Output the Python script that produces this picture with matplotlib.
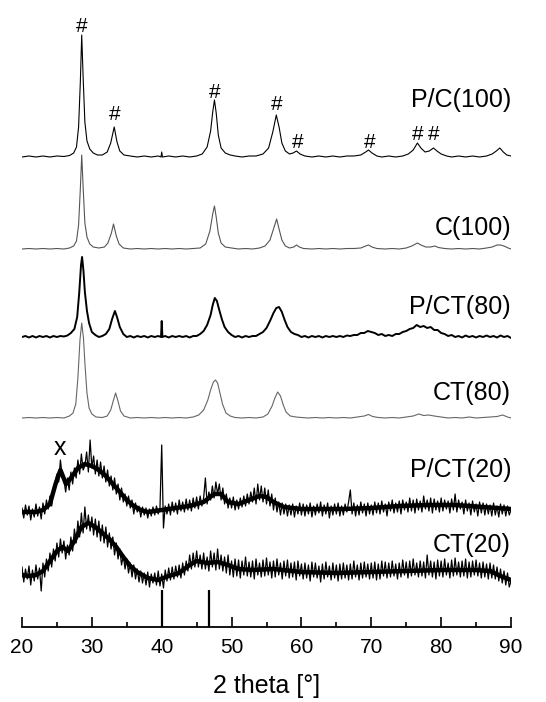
import numpy as np
import matplotlib
matplotlib.use('Agg')
import matplotlib.pyplot as plt
from matplotlib.ticker import MultipleLocator

plt.rcParams['font.family'] = ['Liberation Sans', 'DejaVu Sans']

# ---- data (intensity above each trace's own baseline, arbitrary units) ----
pc100_x = [20, 21, 22, 23, 24, 25, 26, 26.8, 27.4, 27.8, 28.1, 28.35, 28.55, 28.75, 29.0, 29.3, 29.7,
           30.2, 30.8, 31.5, 32.2, 32.7, 33.2, 33.6, 34.0, 34.6, 35.5, 36.5, 37.5, 38.5, 39.5, 39.9,
           40.0, 40.1, 41, 42, 43, 44, 45, 45.8, 46.5, 47.0, 47.3, 47.55, 47.8, 48.1, 48.5, 49.1,
           49.8, 50.5, 51.5, 52.5, 53.5, 54.5, 55.3, 55.9, 56.4, 56.8, 57.2, 57.7, 58.3, 58.8, 59.3,
           59.8, 60.5, 61.5, 62.5, 63.5, 64.5, 65.5, 66.5, 67.5, 68.5, 69.2, 69.6, 70.1, 70.8, 71.5,
           72.5, 73.5, 74.5, 75.3, 76.0, 76.6, 77.1, 77.7, 78.3, 78.9, 79.4, 80.0, 80.8, 81.5, 82.5,
           83.5, 84.5, 85.5, 86.5, 87.3, 87.9, 88.4, 88.9, 89.4, 90]
pc100_y = [0, 1, 0, 1, 0, 1, 0.5, 1.5, 4, 10, 30, 75, 122, 80, 35, 16, 8,
           4, 2, 2, 5, 14, 30, 15, 6, 2, 1, 0, 1, 0, 1, 0,
           5, 0, 1, 0, 1, 0, 1, 3, 10, 26, 45, 57, 44, 22, 9, 4,
           2, 1, 0, 1, 1, 3, 9, 25, 42, 30, 14, 6, 3, 4, 6,
           3, 1, 0, 1, 0, 1, 0, 1, 1, 2, 5, 7, 4, 1, 0,
           1, 0, 1, 3, 7, 14, 9, 5, 6, 9, 6, 3, 1, 0, 1,
           0, 1, 0, 1, 3, 6, 9, 5, 2, 1]

c100_x = [20, 21, 22, 23, 24, 25, 26, 26.8, 27.4, 27.8, 28.1, 28.35, 28.55, 28.75, 29.0, 29.3, 29.7,
          30.2, 31, 31.8, 32.3, 32.8, 33.1, 33.5, 33.9, 34.5, 35.5, 36.5, 37.5, 38.5, 39.5, 40.5,
          41.5, 42.5, 43.5, 44.5, 45.5, 46.3, 46.9, 47.3, 47.55, 47.8, 48.1, 48.5, 49.1, 50, 51,
          52, 53, 54, 54.8, 55.5, 56.0, 56.45, 56.8, 57.2, 57.7, 58.3, 58.9, 59.3, 59.7, 60.3,
          61.5, 62.5, 63.5, 64.5, 65.5, 66.5, 67.5, 68.5, 69.2, 69.6, 70.1, 70.8, 72, 73, 74, 75,
          75.8, 76.6, 77.1, 77.8, 78.5, 79.1, 79.6, 80.5, 81.5, 82.5, 83.5, 84.5, 85.5, 86.5,
          87.3, 88.0, 88.5, 89.0, 89.6, 90]
c100_y = [0, 0.5, 0, 0.5, 0, 0.5, 0, 1, 3, 8, 24, 60, 94, 62, 26, 12, 5,
          2, 1, 2, 6, 16, 25, 13, 5, 1, 0, 0.5, 0, 0.5, 0, 0.5,
          0, 0.5, 0, 0.5, 1, 5, 18, 35, 43, 32, 16, 6, 2, 1, 0,
          0.5, 0, 1, 3, 9, 20, 30, 20, 9, 3, 1, 2, 4, 2, 0.5,
          0, 0.5, 0, 0.5, 0, 0.5, 0.5, 1, 3, 4, 2, 0.5, 0, 0.5, 0, 1,
          3, 6, 4, 2, 2, 3, 1.5, 0.5, 0, 0.5, 0, 0.5, 0, 1,
          2, 4, 4, 3, 1, 0]

pct80_x = [20, 20.5, 21, 21.5, 22, 22.5, 23, 23.5, 24, 24.5, 25, 25.5, 26, 26.5, 27, 27.5, 27.9,
           28.2, 28.45, 28.6, 28.8, 29.0, 29.3, 29.6, 30.0, 30.5, 31.0, 31.5, 32.0, 32.5, 32.9,
           33.3, 33.6, 34.0, 34.5, 35.0, 35.5, 36, 36.5, 37, 37.5, 38, 38.5, 39, 39.5, 39.9, 40.0,
           40.1, 40.5, 41, 41.5, 42, 42.5, 43, 43.5, 44, 44.5, 45, 45.5, 46, 46.5, 46.8, 47.0,
           47.3, 47.6, 47.9, 48.2, 48.6, 49.0, 49.5, 50, 50.5, 51, 51.5, 52, 52.5, 53, 53.5, 54,
           54.5, 55, 55.5, 56.0, 56.4, 56.8, 57.2, 57.6, 58.0, 58.5, 59, 59.5, 60, 60.5, 61, 61.5,
           62, 62.5, 63, 63.5, 64, 64.5, 65, 65.5, 66, 66.5, 67, 67.5, 68, 68.5, 69, 69.5, 70,
           70.5, 71, 71.5, 72, 72.5, 73, 73.5, 74, 74.5, 75, 75.5, 76, 76.5, 77, 77.5, 78, 78.5,
           79, 79.5, 80, 80.5, 81, 81.5, 82, 82.5, 83, 83.5, 84, 84.5, 85, 85.5, 86, 86.5, 87,
           87.5, 88, 88.5, 89, 89.5, 90]
pct80_y = [0, 1, -0.5, 1, -0.5, 1, 0, 1, -0.5, 1, 0, 1, 0.5, 1.5, 4, 8, 20,
           45, 72, 80, 66, 45, 26, 14, 5, 2, 0, 1, 3, 8, 18,
           26, 20, 10, 3, 0, 1, -0.5, 1, 0, 1, -0.5, 1, 0, 1, 0, 16,
           0, 1, -0.5, 1, 0, 1, 0, 1, -0.5, 1, 1, 3, 6, 12, 18, 22,
           32, 39, 36, 28, 18, 10, 5, 2, 0, 1, -0.5, 1, 0, 1, 1, 3,
           5, 9, 16, 24, 29, 30, 25, 17, 10, 5, 3, 2, 0, 1, -0.5, 1,
           0, 1, -0.5, 1, 0, 1, 0, 1, 0, 1.5, 1, 2, 2, 4, 4, 6, 5,
           4, 2, 3, 1, 2, 1, 3, 3, 5, 6, 8, 9, 12, 10, 11, 9, 10,
           7, 7, 4, 3, 1, 2, 0, 1, -0.5, 1.5, 0, 1, -0.5, 1, 0, 1.5, 0,
           1, -0.5, 1.5, 0, 1, -1]

ct80_x = [20, 21, 22, 23, 24, 25, 26, 26.8, 27.3, 27.7, 28.0, 28.3, 28.55, 28.8, 29.0, 29.3, 29.6,
          30.0, 30.6, 31.5, 32.2, 32.7, 33.1, 33.4, 33.7, 34.1, 34.6, 35.5, 36.5, 37.5, 38.5, 39.5,
          40.5, 41.5, 42.5, 43.5, 44.5, 45.3, 46.0, 46.6, 47.0, 47.4, 47.7, 48.0, 48.3, 48.7, 49.2,
          49.8, 50.5, 51.5, 52.5, 53.5, 54.5, 55.2, 55.8, 56.2, 56.6, 57.0, 57.4, 57.8, 58.4, 59.2,
          60, 61, 62, 63, 64, 65, 66, 67, 68, 69, 69.6, 70.2, 71, 72, 73, 74, 75, 76, 76.8, 77.5,
          78.2, 79, 80, 81, 82, 83, 84, 85, 86, 87, 88, 88.8, 89.5, 90]
ct80_y = [0, 0.5, 0, 0.5, 0, 0.5, 0, 2, 5, 14, 40, 78, 95, 80, 55, 25, 10,
          4, 1, 0.5, 2, 8, 18, 25, 18, 7, 2, 0, 0.5, 0, 0.5, 0,
          0.5, 0, 0.5, 0, 1, 3, 8, 18, 28, 36, 38, 35, 26, 14, 5,
          2, 0.5, 0, 0.5, 0, 1, 4, 12, 20, 26, 22, 13, 6, 2, 1,
          0.5, 0, 0.5, 0, 0.5, 0, 0.5, 0, 1, 2, 3.5, 1.5, 0.5, 0, 0.5, 0, 1, 2, 4, 2.5,
          3, 2, 1, 0, 0.5, 0, 1, 0, 0.5, 1, 1.5, 3, 1, 0]

# noisy patterns: raw points every 0.25 deg from 20 to 90 (one group = one degree)
noisy_x = np.arange(20, 90.001, 0.25)
pct20_y = [4, -6, 7, -3,   6, -8, 3, -5,   8, -4, 5, -7,   9, -2, 12, 3,
           16, 6, 22, 30,  38, 30, 52, 36,  32, 20, 34, 22,  40, 28, 44, 34,
           52, 38, 58, 42,  46, 60, 40, 72,  44, 56, 38, 52,  36, 50, 34, 46,
           30, 42, 26, 36,  22, 34, 18, 28,  12, 24, 10, 18,  6, 16, 4, 12,
           -2, 9, 0, 6,  -5, 5, -3, 4,  -6, 3, -4, 5,  -3, 6, -2, 4,
           67, -16, 6, -2,  8, -3, 10, 0,  9, -2, 12, 1,  10, 0, 13, 2,
           12, 1, 14, 4,  15, 3, 16, 6,  14, 34, 8, 20,  12, 26, 14, 30,
           18, 28, 12, 24,  8, 18, 4, 14,  4, 15, 2, 12,  3, 14, 5, 16,
           6, 18, 8, 20,  10, 24, 8, 28,  12, 26, 10, 24,  8, 22, 6, 18,
           2, 14, 0, 10,  -3, 9, -2, 8,  -4, 7, -3, 8,  -5, 6, -2, 9,
           -3, 8, -4, 7,  -2, 9, -5, 6,  -3, 8, -1, 10,  -4, 7, -2, 9,
           -6, 6, -3, 8,  -2, 9, -4, 6,  -3, 8, 0, 10,  22, -2, 9, -4,
           7, -3, 10, -1,  8, -4, 9, -2,  7, -3, 10, -1,  9, -2, 11, 0,
           8, -4, 10, 1,  12, -1, 9, 0,  11, -2, 12, 2,  10, 0, 14, 1,
           12, -1, 13, 2,  11, 0, 16, 3,  12, 1, 14, -1,  13, 2, 11, 0,
           14, 1, 12, 3,  11, -1, 13, 2,  18, 0, 12, 3,  10, -2, 12, 1,
           9, -3, 11, 0,  8, -4, 10, -1,  9, -3, 8, -2,  7, -4, 9, -3,
           6, -5, 8, -2,  7, -4, 6, -3,
           2]
ct20_y = [6, -9, 4, -6,  7, -12, 3, -8,  8, -6, 5, -18,  10, -4, 14, 2,
          20, 6, 24, 12,  30, 16, 34, 20,  32, 14, 28, 18,  36, 22, 44, 30,
          52, 36, 60, 40,  66, 44, 58, 42,  56, 38, 54, 36,  52, 32, 48, 30,
          46, 26, 40, 24,  36, 18, 30, 14,  24, 8, 18, 4,  14, 0, 10, -4,
          8, -6, 4, -9,  2, -10, 0, -12,  1, -14, -1, -10,  0, -12, 2, -13,
          -1, -15, 3, -8,  5, -7, 6, -6,  7, -4, 8, -5,  10, -2, 12, 2,
          18, 4, 20, 6,  22, 6, 18, 4,  20, 4, 16, 2,  22, 6, 20, 3,
          24, 4, 18, 2,  16, 0, 18, -2,  12, -4, 14, -3,  13, -5, 12, -2,
          16, -3, 11, -4,  12, -6, 14, -2,  10, -4, 13, -3,  15, -2, 11, -5,
          12, -4, 14, -2,  10, -6, 12, -3,  13, -5, 10, -4,  11, -7, 12, -3,
          9, -6, 10, -5,  8, -8, 11, -4,  10, -5, 7, -9,  9, -6, 11, -4,
          7, -7, 10, -5,  8, -8, 9, -6,  10, -5, 8, -7,  9, -6, 12, -4,
          8, -7, 10, -5,  11, -4, 9, -6,  10, -5, 11, -7,  9, -6, 12, -3,
          11, -5, 10, -4,  12, -3, 9, -6,  10, -4, 13, -2,  11, -5, 12, -3,
          14, -2, 10, -4,  12, -3, 11, -5,  18, -2, 12, -4,  11, -6, 13, -3,
          12, -4, 14, -2,  10, -5, 13, -3,  15, -2, 11, -4,  12, -3, 14, -5,
          11, -4, 12, -2,  13, -3, 10, -5,  11, -4, 9, -6,  10, -5, 8, -6,
          6, -8, 4, -10,  2, -12, 0, -14,
          -8]

# centre of the dense noise band
pct20_mx = [20, 22, 23, 24, 24.8, 25.5, 26.3, 27, 28, 29, 30, 31, 32, 33, 34, 35, 36, 37, 38,
            40, 42, 44, 46, 47.5, 48.5, 49.5, 51, 52.5, 54, 55, 56, 57.5, 60, 63, 66, 70, 74,
            78, 82, 86, 90]
pct20_my = [0, 0, 2, 8, 28, 42, 28, 34, 44, 48, 46, 42, 36, 28, 20, 12, 6, 2, 0,
            2, 4, 6, 10, 18, 18, 10, 8, 12, 16, 15, 10, 5, 3, 3, 3, 4, 6,
            7, 7, 5, 3]
ct20_mx = [20, 21, 22, 23, 24, 25, 25.8, 26.6, 27.5, 28.5, 29.5, 30.5, 31.5, 32.5, 33.5, 34.5,
           35.5, 36.5, 38, 39.5, 41, 42.5, 44, 45, 46.5, 48, 49.5, 51, 53, 56, 60, 65, 70, 75,
           80, 85, 87, 88.5, 90]
ct20_my = [-2, -3, -2, 2, 12, 22, 26, 22, 32, 46, 50, 46, 40, 34, 26, 16,
           7, 1, -5, -7, -3, 0, 8, 12, 10, 11, 8, 4, 3, 4, 1, 0, 1, 2,
           3, 3, 2, -3, -7]

# reference stick pattern
ref_x = [40.0, 46.7]
ref_h = [37, 37]

labels = ['P/C(100)', 'C(100)', 'P/CT(80)', 'CT(80)', 'P/CT(20)', 'CT(20)']
hash_x = [28.6, 33.3, 47.6, 56.5, 59.5, 69.7, 76.7, 79.0]

# ---- layout / style ----
offsets = [470, 378, 290, 209, 115, 54]
label_y = [527, 399, 320, 234, 157, 82]
hash_y = [600, 512, 534, 522, 485, 485, 492, 492]
colors = ['black', '#555555', 'black', '#666666', 'black', 'black']
widths = [0.8, 0.8, 1.4, 0.8, 0.9, 0.9]

traces = [(pc100_x, pc100_y), (c100_x, c100_y), (pct80_x, pct80_y),
          (ct80_x, ct80_y), (noisy_x, pct20_y), (noisy_x, ct20_y)]

fig = plt.figure(figsize=(5.46, 7.02), dpi=100)
ax = fig.add_axes([22 / 546, 75 / 702, 489 / 546, 627 / 702])

# dense core of the noisy patterns
ax.plot(pct20_mx, np.asarray(pct20_my) + offsets[4], color='black', lw=3.2,
        solid_joinstyle='round')
ax.plot(ct20_mx, np.asarray(ct20_my) + offsets[5], color='black', lw=3.2,
        solid_joinstyle='round')

for (x, y), off, c, lw, lab, ly in zip(traces, offsets, colors, widths, labels, label_y):
    ax.plot(x, np.asarray(y) + off, color=c, lw=lw)
    ax.text(90, ly, lab, ha='right', va='center', fontsize=18)

ax.vlines(ref_x, 0, ref_h, color='black', lw=1.6)

for hx, hy in zip(hash_x, hash_y):
    ax.text(hx, hy, '#', ha='center', va='center', fontsize=15)
ax.text(25.5, 179, 'x', ha='center', va='center', fontsize=18)

ax.set_xlim(20, 90)
ax.set_ylim(0, 627)
for s in ['left', 'right', 'top']:
    ax.spines[s].set_visible(False)
ax.spines['bottom'].set_linewidth(1.3)
ax.set_yticks([])
ax.xaxis.set_major_locator(MultipleLocator(10))
ax.xaxis.set_minor_locator(MultipleLocator(5))
ax.tick_params(axis='x', which='major', direction='in', length=7, width=1.2, pad=8, labelsize=15)
ax.tick_params(axis='x', which='minor', direction='in', length=3.5, width=1.2)
ax.set_xlabel('2 theta [°]', fontsize=18, labelpad=12)

fig.savefig('out.png', dpi=100)
